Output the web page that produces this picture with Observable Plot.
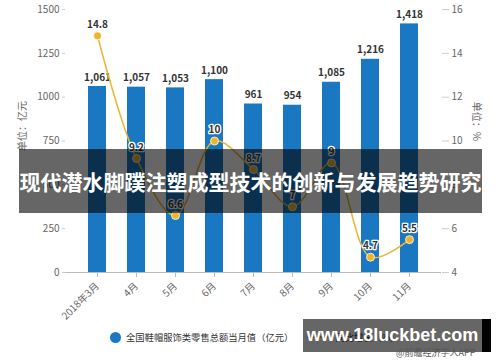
<!DOCTYPE html>
<html><head><meta charset="utf-8">
<script src="https://cdn.jsdelivr.net/npm/d3@7"></script>
<script src="https://cdn.jsdelivr.net/npm/@observablehq/plot@0.6"></script>
<style>
body{margin:0;background:#fff;font-family:"Noto Sans CJK SC","Noto Sans",sans-serif;}
#wrap{position:relative;width:500px;height:362px;overflow:hidden;}
#chart{position:absolute;left:0;top:0;}
.legend{position:absolute;top:330px;left:110px;font-size:9.3px;color:#333;display:flex;align-items:center;white-space:nowrap;}
.dot{width:11px;height:11px;border-radius:50%;background:#1a78c2;margin-right:5px;}
.banner{position:absolute;left:19px;top:149px;width:463px;height:64px;background:rgba(0,0,0,0.6);color:#fff;font-weight:bold;font-size:21px;line-height:64px;text-align:center;white-space:nowrap;overflow:hidden;}
.wm{position:absolute;left:303px;top:319px;width:179px;height:33px;background:rgba(0,0,0,0.6);color:#fff;font-weight:bold;font-size:18px;line-height:33px;text-align:center;white-space:nowrap;font-family:"Liberation Sans",Arial,sans-serif;}
.wmstrip{position:absolute;left:482px;top:319px;width:9px;height:33px;background:#000;}
.src{position:absolute;left:396px;top:347px;font-size:9px;line-height:12px;color:#555;white-space:nowrap;}
</style></head>
<body><div id="wrap"><div id="chart"></div>
<div class="legend"><span class="dot"></span>全国鞋帽服饰类零售总额当月值（亿元）
<span style="display:inline-block;width:22px;height:2px;background:#e8b632;margin:0 6px 0 14px;"></span>同比增长（%）</div>
<div class="banner">现代潜水脚蹼注塑成型技术的创新与发展趋势研究</div>
<div class="wm">www.18luckbet.com</div><div class="wmstrip"></div>
<div class="src">@前瞻经济学人APP</div>
</div>
<script>
const months = ["2018年3月","4月","5月","6月","7月","8月","9月","10月","11月"];
const sales = [1061,1057,1053,1100,961,954,1085,1216,1418];
const growth = [14.8,9.2,6.6,10,8.7,7,9,4.7,5.5];
const leftTicks = [0,250,500,750,1000,1250,1500];
const rightTicks = [4,6,8,10,12,14,16];

const toLeft = v => (v - 4) * 125;
const data = months.map((m,i)=>({m, s:sales[i], g:growth[i], gy:toLeft(growth[i])}));

const chart = Plot.plot({
  width:500, height:362,
  marginLeft:65, marginRight:59, marginTop:9, marginBottom:90,
  style:{fontFamily:"'Noto Sans CJK SC','Noto Sans',sans-serif", fontSize:"10px", color:"#666"},
  x:{domain:months, padding:0.54, label:null},
  y:{domain:[0,1500], label:null},
  marks:[
    Plot.ruleY(leftTicks.slice(1), {stroke:"#e3e3e3", x1:62, x2:448, strokeWidth:1}),
    Plot.axisY(leftTicks, {anchor:"left", tickSize:3, tickPadding:3, stroke:"#ccc", color:"#666", fontSize:10, tickFormat:d=>String(d), label:null}),
    Plot.axisY(rightTicks.map(toLeft), {anchor:"right", tickSize:7, tickPadding:3, stroke:"#ccc", color:"#666", fontSize:10, tickFormat:d=>d/125+4, label:null}),
    Plot.barY(data, {x:"m", y:"s", fill:"#1a78c2"}),
    Plot.ruleY([0], {stroke:"#bbb"}),
    Plot.axisX({tickRotate:-45, tickSize:5, stroke:"#bbb", color:"#666", fontSize:10, label:null}),
    Plot.text(data, {x:"m", y:"s", text:d=>d3.format(",")(d.s), dy:-9, fill:"#333", fontWeight:"bold", fontSize:10}),
    Plot.line(data, {x:"m", y:"gy", stroke:"#e8b632", strokeWidth:1.5, curve:"catmull-rom"}),
    Plot.dot(data, {x:"m", y:"gy", r:4, fill:"#f0b429", stroke:"#fff", strokeWidth:0.8}),
    Plot.text(data, {x:"m", y:"gy", text:d=>String(d.g), dy:-11, fill:"#333", stroke:"#fff", strokeWidth:2.5, fontWeight:"bold", fontSize:10}),
    Plot.text(["单位：亿元"], {frameAnchor:"left", dx:-43, dy:10, rotate:-90, fill:"#666", fontSize:10}),
    Plot.text(["单位：%"], {frameAnchor:"right", dx:35, dy:0, rotate:90, fill:"#666", fontSize:10})
  ]
});
document.getElementById("chart").append(chart);
</script></body></html>
